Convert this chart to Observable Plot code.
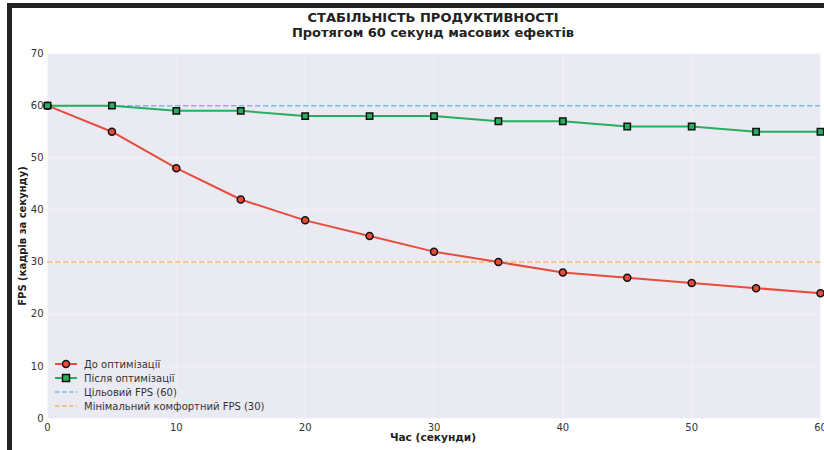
<!DOCTYPE html>
<html><head><meta charset="utf-8">
<script src="https://cdn.jsdelivr.net/npm/d3@7"></script>
<script src="https://cdn.jsdelivr.net/npm/@observablehq/plot@0.6"></script>
<style>
html,body{margin:0;padding:0;width:824px;height:450px;overflow:hidden;background:#fff;font-family:"DejaVu Sans",sans-serif;}
#frame{position:absolute;left:7px;top:3px;width:900px;height:442px;border-left:5px solid #222;border-top:5px solid #222;border-bottom:5px solid #222;}
.t{position:absolute;left:0;width:866px;text-align:center;font-weight:bold;font-size:13px;color:#222;}
#chart{position:absolute;left:0;top:40px;}
#ylab{position:absolute;left:22px;top:236px;transform:translate(-50%,-50%) rotate(-90deg);font-weight:bold;font-size:10px;color:#222;white-space:nowrap;}
#xlab{position:absolute;left:433px;top:437px;transform:translate(-50%,-50%);font-weight:bold;font-size:10.6px;color:#222;white-space:nowrap;}
#legend{position:absolute;left:53px;top:356px;}
</style></head>
<body>
<div id="frame"></div>
<div class="t" style="top:10px">СТАБІЛЬНІСТЬ ПРОДУКТИВНОСТІ</div>
<div class="t" style="top:25px">Протягом 60 секунд масових ефектів</div>
<div id="chart"></div>
<div id="ylab">FPS (кадрів за секунду)</div>
<div id="xlab">Час (секунди)</div>
<svg id="legend" width="270" height="62"></svg>
<script>
const seconds = [0,5,10,15,20,25,30,35,40,45,50,55,60];
const fpsBefore = [60,55,48,42,38,35,32,30,28,27,26,25,24];
const fpsAfter = [60,60,59,59,58,58,58,57,57,56,56,55,55];
const targetFps = 60;
const minComfortFps = 30;
const xTicks = [0,10,20,30,40,50,60];
const yTicks = [0,10,20,30,40,50,60,70];
const legendLabels = ["До оптимізації","Після оптимізації","Цільовий FPS (60)","Мінімальний комфортний FPS (30)"];

const red = "#e74c3c", green = "#27ae60", blue = "#3498db", orange = "#f39c12";
const before = seconds.map((s,i)=>({s, v: fpsBefore[i]}));
const after = seconds.map((s,i)=>({s, v: fpsAfter[i]}));

const chart = Plot.plot({
  width: 824, height: 410,
  marginLeft: 47, marginRight: 4, marginTop: 13, marginBottom: 32,
  style: {fontFamily: "DejaVu Sans, sans-serif", fontSize: "10px", color: "#333", background: "transparent", overflow: "visible"},
  x: {domain: [0,60], label: null},
  y: {domain: [0,70], label: null},
  marks: [
    Plot.frame({fill: "#eaeaf2", stroke: null}),
    Plot.gridX(xTicks, {stroke: "#fff", strokeOpacity: 0.35, strokeWidth: 1}),
    Plot.gridY(yTicks, {stroke: "#fff", strokeOpacity: 0.35, strokeWidth: 1}),
    Plot.ruleY([targetFps], {stroke: blue, strokeOpacity: 0.6, strokeWidth: 1.5, strokeDasharray: "5.5,2.5"}),
    Plot.ruleY([minComfortFps], {stroke: orange, strokeOpacity: 0.6, strokeWidth: 1.5, strokeDasharray: "5.5,2.5"}),
    Plot.line(before, {x: "s", y: "v", stroke: red, strokeWidth: 2}),
    Plot.line(after, {x: "s", y: "v", stroke: green, strokeWidth: 2}),
    Plot.dot(before, {x: "s", y: "v", r: 3.5, fill: red, stroke: "#111", strokeWidth: 1.5}),
    Plot.dot(after, {x: "s", y: "v", r: 3.6, symbol: "square", fill: green, stroke: "#111", strokeWidth: 1.5}),
    Plot.axisX(xTicks, {tickSize: 0, tickPadding: 5, label: null, fill: "#333"}),
    Plot.axisY(yTicks, {tickSize: 0, tickPadding: 4, label: null, fill: "#333"})
  ]
});
document.getElementById("chart").appendChild(chart);

// legend
const lg = d3.select("#legend");
const items = [
  {c: red, dash: null, m: "circle"},
  {c: green, dash: null, m: "square"},
  {c: blue, dash: "4.5,2.5", m: null, op: 0.6},
  {c: orange, dash: "4.5,2.5", m: null, op: 0.6}
];
items.forEach((it, i) => {
  const y = 8 + i*14;
  const g = lg.append("g");
  g.append("line").attr("x1", 2).attr("x2", 24).attr("y1", y).attr("y2", y)
    .attr("stroke", it.c).attr("stroke-width", it.dash ? 1.5 : 2)
    .attr("stroke-opacity", it.op || 1).attr("stroke-dasharray", it.dash);
  if (it.m === "circle") g.append("circle").attr("cx", 13).attr("cy", y).attr("r", 3.5).attr("fill", it.c).attr("stroke", "#111").attr("stroke-width", 1.5);
  if (it.m === "square") g.append("rect").attr("x", 9.5).attr("y", y-3.5).attr("width", 7).attr("height", 7).attr("fill", it.c).attr("stroke", "#111").attr("stroke-width", 1.5);
  g.append("text").attr("x", 31).attr("y", y).attr("dy", "0.35em").attr("font-size", "10px")
    .attr("font-family", "DejaVu Sans, sans-serif").attr("fill", "#333").text(legendLabels[i]);
});
</script>
</body></html>
